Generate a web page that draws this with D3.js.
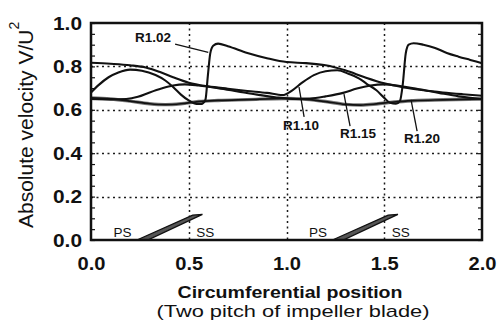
<!DOCTYPE html>
<html>
<head>
<meta charset="utf-8">
<script src="https://cdn.jsdelivr.net/npm/d3@7"></script>
<style>
  html, body { margin: 0; padding: 0; background: #fff; }
  svg { display: block; }
</style>
</head>
<body>
<svg id="chart" width="503" height="329"></svg>
<script>
// Absolute velocity over two impeller blade pitches, one curve per radius ratio
const xTicks = [0.0, 0.5, 1.0, 1.5, 2.0];
const yTicks = [0.0, 0.2, 0.4, 0.6, 0.8, 1.0];

// [circumferential position, V/U2]
const r102 = [[0,0.68],[0.04,0.715],[0.09,0.75],[0.14,0.772],[0.2,0.785],[0.26,0.78],[0.33,0.76],
  [0.38,0.735],[0.42,0.705],[0.46,0.67],[0.5,0.643],[0.54,0.627],[0.565,0.627],[0.585,0.645],
  [0.598,0.76],[0.61,0.86],[0.625,0.895],[0.65,0.905],[0.7,0.893],[0.8,0.862],[0.9,0.838],
  [1.0,0.82],[1.1,0.815],[1.2,0.805],[1.3,0.782],[1.4,0.75],[1.5,0.722],[1.6,0.703],
  [1.7,0.69],[1.8,0.68],[1.9,0.672],[2.0,0.665]];
const r110 = [[0,0.817],[0.1,0.812],[0.2,0.805],[0.28,0.795],[0.35,0.775],[0.42,0.75],[0.5,0.725],
  [0.6,0.708],[0.7,0.697],[0.8,0.687],[0.9,0.678],[0.98,0.668],[1.03,0.69],[1.08,0.725],
  [1.14,0.76],[1.2,0.778],[1.26,0.782],[1.32,0.765],[1.37,0.745],[1.41,0.72],[1.46,0.69],
  [1.5,0.655],[1.53,0.632],[1.56,0.628],[1.58,0.64],[1.595,0.72],[1.61,0.86],[1.625,0.9],
  [1.65,0.907],[1.7,0.9],[1.76,0.885],[1.82,0.862],[1.88,0.845],[1.94,0.83],[2.0,0.815]];
const r115 = [[0,0.65],[0.1,0.648],[0.18,0.65],[0.24,0.66],[0.3,0.68],[0.36,0.698],[0.42,0.712],
  [0.48,0.717],[0.55,0.712],[0.65,0.7],[0.75,0.685],[0.85,0.67],[0.95,0.657],[1.05,0.65],
  [1.12,0.652],[1.2,0.662],[1.29,0.678],[1.36,0.698],[1.43,0.712],[1.5,0.717],[1.58,0.71],
  [1.68,0.695],[1.78,0.678],[1.88,0.662],[2.0,0.65]];
const r120 = [[0,0.655],[0.1,0.65],[0.2,0.64],[0.3,0.628],[0.38,0.624],[0.46,0.628],[0.55,0.638],
  [0.65,0.643],[0.8,0.647],[1.0,0.652],[1.1,0.648],[1.2,0.638],[1.3,0.625],[1.38,0.622],
  [1.46,0.627],[1.55,0.636],[1.65,0.642],[1.8,0.646],[2.0,0.65]];

// blade section outline (one pitch) and the pitch offsets where it is drawn
const bladeShape = [[0.235,0],[0.29,0],[0.57,0.118],[0.52,0.115]];
const bladePitch = [0, 1];

const seriesNames = ["R1.02", "R1.10", "R1.15", "R1.20"];
const seriesData = [r102, r110, r115, r120];

// label text position [x, y] and leader line [x1, y1, x2, y2], in data units
const labelText = [[0.225, 0.912], [1.074, 0.507], [1.366, 0.47], [1.693, 0.447]];
const labelLeader = [[0.43, 0.903, 0.6, 0.865], [1.09, 0.567, 1.064, 0.705],
                     [1.325, 0.525, 1.294, 0.672], [1.668, 0.502, 1.637, 0.646]];

const svg = d3.select("#chart");
const FONT = "'Liberation Sans', Arial, Helvetica, sans-serif";
const L = 91, R = 482, T = 23, B = 240;
const x = d3.scaleLinear().domain([0, 2]).range([L, R]);
const y = d3.scaleLinear().domain([0, 1]).range([B, T]);
const crisp = v => Math.round(v) + 0.5;

// dotted grid
const gridY = yTicks.filter(v => v > 0 && v < 1);
const gridX = xTicks.filter(v => v > 0 && v < 2);
const grid = svg.append("g");
grid.selectAll("line.gy").data(gridY).join("line").attr("class", "gy")
  .attr("x1", L).attr("x2", R).attr("y1", d => crisp(y(d))).attr("y2", d => crisp(y(d)))
  .style("stroke", "#1a1a1a").style("stroke-width", "1.5px").style("stroke-dasharray", "2 3.5");
grid.selectAll("line.gx").data(gridX).join("line").attr("class", "gx")
  .attr("y1", T).attr("y2", B).attr("x1", d => crisp(x(d))).attr("x2", d => crisp(x(d)))
  .style("stroke", "#1a1a1a").style("stroke-width", "1.5px").style("stroke-dasharray", "2 3.5");

// minor ticks on left and right axes
const minor = d3.range(0, 1.0001, 0.05);
svg.append("g").attr("transform", `translate(${L},0)`)
  .call(d3.axisRight(y).tickValues(minor).tickSize(4).tickFormat(""))
  .call(g => g.select(".domain").remove())
  .selectAll("line").attr("stroke", "#111").attr("stroke-width", 1.2);
svg.append("g").attr("transform", `translate(${R},0)`)
  .call(d3.axisLeft(y).tickValues(minor).tickSize(4).tickFormat(""))
  .call(g => g.select(".domain").remove())
  .selectAll("line").attr("stroke", "#111").attr("stroke-width", 1.2);

// blades
svg.append("g").selectAll("polygon").data(bladePitch).join("polygon")
  .attr("points", p => bladeShape.map(d => [x(d[0] + p), y(d[1])].join(",")).join(" "))
  .attr("fill", "#555").attr("stroke", "#111").attr("stroke-width", 1.3);

const bladeLabels = bladePitch.flatMap(p => [
  {t: "PS", v: 0.161 + p}, {t: "SS", v: 0.585 + p}]);
svg.append("g").selectAll("text").data(bladeLabels).join("text")
  .attr("x", d => x(d.v)).attr("y", y(0.014))
  .attr("text-anchor", "middle").attr("font-family", FONT).attr("font-size", 13.5)
  .attr("fill", "#111").text(d => d.t);

// curves
const line = d3.line().x(d => x(d[0])).y(d => y(d[1])).curve(d3.curveMonotoneX);
const curves = svg.append("g").attr("fill", "none").attr("stroke-linejoin", "round");
curves.append("path").attr("d", line(r120)).attr("stroke", "#777").attr("stroke-width", 3.4);
seriesData.forEach((s, i) => {
  curves.append("path").attr("d", line(s))
    .attr("stroke", "#111").attr("stroke-width", i === 3 ? 1.7 : 2.1);
});

// series labels with leaders
const ann = svg.append("g");
ann.selectAll("line").data(labelLeader).join("line")
  .attr("x1", d => x(d[0])).attr("y1", d => y(d[1]))
  .attr("x2", d => x(d[2])).attr("y2", d => y(d[3]))
  .attr("stroke", "#111").attr("stroke-width", 1.3);
ann.selectAll("text").data(seriesNames).join("text")
  .attr("x", (d, i) => x(labelText[i][0])).attr("y", (d, i) => y(labelText[i][1]))
  .attr("text-anchor", (d, i) => i === 0 ? "start" : "middle")
  .attr("font-family", FONT).attr("font-size", 13.5).attr("font-weight", "bold")
  .attr("fill", "#111").text(d => d);

// frame
svg.append("rect").attr("x", L).attr("y", T).attr("width", R - L).attr("height", B - T)
  .attr("fill", "none").attr("stroke", "#111").attr("stroke-width", 2.5);

// axes labels
const xAxis = svg.append("g").attr("transform", `translate(0,${B})`)
  .call(d3.axisBottom(x).tickValues(xTicks).tickSize(0).tickPadding(17).tickFormat(d3.format(".1f")));
xAxis.select(".domain").remove();
xAxis.selectAll("text").attr("font-family", FONT).attr("font-size", 19)
  .attr("font-weight", "bold").attr("fill", "#111")
  .attr("textLength", 28).attr("lengthAdjust", "spacingAndGlyphs");

const yAxis = svg.append("g").attr("transform", `translate(${L},0)`)
  .call(d3.axisLeft(y).tickValues(yTicks).tickSize(0).tickPadding(9).tickFormat(d3.format(".1f")));
yAxis.select(".domain").remove();
yAxis.selectAll("text").attr("font-family", FONT).attr("font-size", 19)
  .attr("font-weight", "bold").attr("fill", "#111")
  .attr("textLength", 29).attr("lengthAdjust", "spacingAndGlyphs");

// axis titles
svg.append("text").attr("x", 290).attr("y", 298).attr("text-anchor", "middle")
  .attr("font-family", FONT).attr("font-size", 17).attr("font-weight", "bold").attr("fill", "#111")
  .attr("textLength", 225).attr("lengthAdjust", "spacingAndGlyphs")
  .text("Circumferential position");
svg.append("text").attr("x", 293).attr("y", 317).attr("text-anchor", "middle")
  .attr("font-family", FONT).attr("font-size", 17).attr("fill", "#111")
  .attr("textLength", 273).attr("lengthAdjust", "spacingAndGlyphs")
  .text("(Two pitch of impeller blade)");

const yt = svg.append("text").attr("transform", "translate(33,228) rotate(-90)")
  .attr("font-family", FONT).attr("font-size", 21).attr("fill", "#111");
yt.append("tspan").text("Absolute velocity V/U");
yt.append("tspan").attr("dy", -14).attr("font-size", 14).text("2");
</script>
</body>
</html>
